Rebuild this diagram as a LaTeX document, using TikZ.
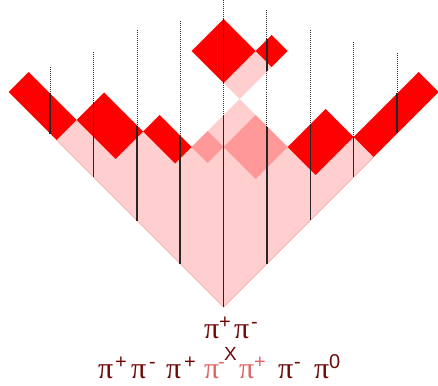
\documentclass[tikz,border=0pt]{standalone}
\usepackage{fontspec}
\newfontfamily\pifont{Liberation Serif}
\newfontfamily\supfont{Liberation Sans}
\definecolor{pinkfill}{RGB}{255,206,206}
\definecolor{salmon}{RGB}{255,153,153}
\definecolor{redfill}{RGB}{255,0,0}
\definecolor{darkred}{RGB}{112,8,8}
\definecolor{lightred}{RGB}{224,100,100}
\definecolor{edgepink}{RGB}{255,160,160}
\newcommand{\latbox}[5]{\fill[#1] (#2,#4) -- (#3,#4) -- (#3,#5) -- (#2,#5) -- cycle;}
\begin{document}
\begin{tikzpicture}[x=1pt,y=-1pt,
  pisym/.style={font=\pifont\fontsize{30}{30}\selectfont, inner sep=0pt, anchor=base west, text=darkred},
  supsym/.style={font=\supfont\fontsize{20}{20}\selectfont, inner sep=0pt, anchor=base west, text=darkred},
  light/.style={text=lightred},
  dotline/.style={black!80, line width=1.1pt, dash pattern=on 1pt off 1pt},
  solidline/.style={black!85, line width=1.4pt}]
\useasboundingbox (0,0) rectangle (438,385);
% lattice scope: first coordinate goes up-left, second up-right
\begin{scope}[shift={(223.5,307)}, x={(-1pt,1pt)}, y={(1pt,1pt)}]
  \fill[pinkfill] (0,0) -- (167,0) -- (167,20) -- (128,20) -- (128,47.5) -- (96,47.5)
     -- (96,112) -- (20,112) -- (20,150) -- (0,150) -- cycle;
  \draw[edgepink, line width=0.7pt] (167,0) -- (0,0) -- (0,150);
  \latbox{salmon}{80}{96}{64}{80}
  \latbox{salmon}{48}{80}{80}{112}
  \latbox{redfill}{167}{215}{0}{20}
  \latbox{redfill}{128}{167}{20}{47.5}
  \latbox{redfill}{96}{128}{47.5}{64}
  \latbox{redfill}{20}{48}{112}{150}
  \latbox{redfill}{0}{20}{150}{215}
  \latbox{pinkfill}{96}{112}{112}{144}
  \latbox{redfill}{112}{144}{112}{144}
  \latbox{redfill}{96}{112}{144}{160}
\end{scope}
% vertical world lines
\foreach \x/\dtop/\stop in {50.1/67/93.5, 93.7/52/102.5, 137.1/30/125.5, 180.1/21/135.5,
   310.3/30/124.5, 353.7/42/136.5, 397.1/53/93.5} {
  \draw[dotline] (\x,\dtop) -- (\x,\stop);
  \draw[solidline] (\x,\stop) -- (\x,{307-abs(\x-223.5)});
}
\draw[dotline] (223.5,0) -- (223.5,19);
\draw[solidline] (223.5,19) -- (223.5,83);
\draw[dotline] (223.5,83) -- (223.5,115);
\draw[solidline] (223.5,115) -- (223.5,307);
\draw[dotline] (266.9,10) -- (266.9,39.5);
\draw[solidline] (266.9,39.5) -- (266.9,71.5);
\draw[dotline] (266.9,71.5) -- (266.9,126.5);
\draw[solidline] (266.9,126.5) -- (266.9,263.6);
% labels
\node[pisym] (t1) at (204,338) {π};
\node[supsym] (t1s) at (219,328) {+};
\node[pisym] (t2) at (234,338) {π};
\node[supsym] (t2s) at (251,328) {-};
\node[supsym, font=\supfont\fontsize{19}{19}\selectfont] (x) at (224,360) {X};
\node[pisym] (b1) at (98,378) {π};
\node[supsym] (b1s) at (115,368) {+};
\node[pisym] (b2) at (131,378) {π};
\node[supsym] (b2s) at (149,368) {-};
\node[pisym] (b3) at (166,378) {π};
\node[supsym] (b3s) at (184,368) {+};
\node[pisym, light] (b4) at (204,378) {π};
\node[supsym, light] (b4s) at (218,368) {-};
\node[pisym, light] (b5) at (239,378) {π};
\node[supsym, light] (b5s) at (254,368) {+};
\node[pisym] (b6) at (278,378) {π};
\node[supsym] (b6s) at (294,368) {-};
\node[pisym] (b7) at (314,378) {π};
\node[supsym] (b7s) at (329,368) {0};
\end{tikzpicture}
\end{document}
